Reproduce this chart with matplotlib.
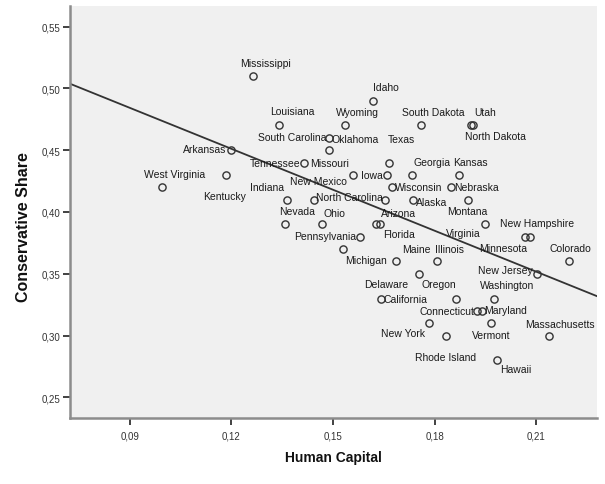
import numpy as np
import matplotlib
matplotlib.use("Agg")
import matplotlib.pyplot as plt
from matplotlib.ticker import FuncFormatter

plt.rcParams['font.family'] = ['Liberation Sans', 'DejaVu Sans']

# ---- data ----
states = ["Mississippi", "Idaho", "Louisiana", "Wyoming", "South Dakota", "Utah",
          "North Dakota", "South Carolina", "Arkansas", "Oklahoma", "Tennessee",
          "Texas", "Kentucky", "Missouri", "Iowa", "Georgia", "Kansas",
          "West Virginia", "Wisconsin", "Nebraska", "Indiana", "New Mexico",
          "North Carolina", "Alaska", "Montana", "Nevada", "Ohio", "Arizona",
          "Florida", "Virginia", "Pennsylvania", "Minnesota", "New Hampshire",
          "Michigan", "Maine", "Illinois", "Colorado", "Delaware", "New Jersey",
          "California", "Oregon", "Washington", "Connecticut", "Maryland",
          "New York", "Vermont", "Rhode Island", "Massachusetts", "Hawaii"]
human_capital = [0.1264, 0.1619, 0.1341, 0.1535, 0.1759, 0.1907,
                 0.1915, 0.1489, 0.1198, 0.1489, 0.1415,
                 0.1665, 0.1183, 0.1558, 0.1661, 0.1734, 0.1871,
                 0.0995, 0.1674, 0.1848, 0.1364, 0.1444,
                 0.1653, 0.1737, 0.1898, 0.1358, 0.1468, 0.1626,
                 0.1639, 0.1950, 0.1580, 0.2068, 0.2081,
                 0.1530, 0.1686, 0.1808, 0.2198, 0.1755, 0.2103,
                 0.1643, 0.1863, 0.1977, 0.1925, 0.1940,
                 0.1785, 0.1966, 0.1833, 0.2138, 0.1984]
conservative_share = [0.51, 0.49, 0.47, 0.47, 0.47, 0.47,
                      0.47, 0.46, 0.45, 0.45, 0.44,
                      0.44, 0.43, 0.43, 0.43, 0.43, 0.43,
                      0.42, 0.42, 0.42, 0.41, 0.41,
                      0.41, 0.41, 0.41, 0.39, 0.39, 0.39,
                      0.39, 0.39, 0.38, 0.38, 0.38,
                      0.37, 0.36, 0.36, 0.36, 0.35, 0.35,
                      0.33, 0.33, 0.33, 0.32, 0.32,
                      0.31, 0.31, 0.30, 0.30, 0.28]
x_ticks = [0.09, 0.12, 0.15, 0.18, 0.21]
y_ticks = [0.25, 0.30, 0.35, 0.40, 0.45, 0.50, 0.55]

# label placement (pixel offsets of label centre from its point; screen y down)
label_offsets = {
    "Mississippi": (12.4, -13.4), "Idaho": (12.7, -14), "Louisiana": (13, -14.4),
    "Wyoming": (12.5, -13.5), "South Dakota": (12.6, -13.7), "Utah": (14.3, -13.7),
    "North Dakota": (22.4, 10.7), "South Carolina": (-37, -1.3),
    "Oklahoma": (26.2, -11.3), "Texas": (13, -24), "Arkansas": (-26.4, -1),
    "Tennessee": (-28.6, 0), "Kentucky": (-1.4, 20.7), "Missouri": (-22.7, -12.4),
    "Iowa": (-15.5, 0), "Georgia": (20.3, -13.4), "Kansas": (12, -13.4),
    "West Virginia": (12.7, -13.7), "Wisconsin": (27.1, 0), "Nebraska": (25.5, 0),
    "Indiana": (-20.3, -13), "New Mexico": (4.7, -18.4),
    "North Carolina": (-35.4, -2.4), "Alaska": (18.5, 2.6), "Montana": (-0.5, 11.3),
    "Nevada": (12.3, -13.3), "Ohio": (12.3, -11), "Arizona": (22.6, -11.2),
    "Florida": (18.7, 10), "Virginia": (-22, 9), "Pennsylvania": (-35.3, -1),
    "Minnesota": (-21.7, 11), "New Hampshire": (7.8, -13.7), "Michigan": (22.7, 11.2),
    "Maine": (20, -12.5), "Illinois": (12, -12.5), "Colorado": (1, -13.3),
    "Delaware": (-33.2, 10), "New Jersey": (-32, -3.8), "California": (24.2, 0.7),
    "Oregon": (-16.7, -15), "Washington": (12.2, -14), "Connecticut": (-30.4, 0),
    "Maryland": (24, -1.3), "New York": (-26.6, 10), "Vermont": (0, 11.4),
    "Rhode Island": (-0.5, 21.3), "Massachusetts": (11, -11.7), "Hawaii": (19, 9),
}

W, H = 605, 485
fig = plt.figure(figsize=(W / 100, H / 100), dpi=100, facecolor='white')
ax = fig.add_axes([70 / W, 1 - 419 / H, (597 - 70) / W, (419 - 7) / H])
ax.set_facecolor('#f0f0f0')

x = np.array(human_capital)
y = np.array(conservative_share)

xlim = (0.0723, 0.2280)
ylim = (0.2333, 0.5667)
ax.set_xlim(*xlim)
ax.set_ylim(*ylim)

# fit line
b, a = np.polyfit(x, y, 1)
xx = np.array(xlim)
ax.plot(xx, a + b * xx, color='#333333', lw=1.3, zorder=2)

ax.plot(x, y, linestyle='none', marker='o', markersize=5.2,
        markerfacecolor='none', markeredgecolor='#333333', markeredgewidth=1.0,
        zorder=3)

for name, xi, yi in zip(states, x, y):
    dx, dy = label_offsets[name]
    ax.annotate(name, (xi, yi), xytext=(dx, -dy), textcoords='offset pixels',
                ha='center', va='center', fontsize=7.5, color='#1a1a1a', zorder=4)

for s in ['top', 'right']:
    ax.spines[s].set_visible(False)
for s in ['left', 'bottom']:
    ax.spines[s].set_color('#8c8c8c')
    ax.spines[s].set_linewidth(1.8)

ax.set_xticks(x_ticks)
ax.set_yticks(y_ticks)
fmt = FuncFormatter(lambda v, p: f"{v:.2f}".replace('.', ','))
ax.xaxis.set_major_formatter(fmt)
ax.yaxis.set_major_formatter(fmt)
ax.tick_params(axis='both', direction='out', length=5, width=1.3,
               color='#333333', labelsize=7, labelcolor='#333333', pad=2)
ax.tick_params(axis='x', pad=4)

fig.text(333 / W, 1 - 458 / H, "Human Capital", ha='center', va='center',
         fontsize=10, fontweight='bold', color='#111111')
fig.text(24 / W, 1 - 227.5 / H, "Conservative Share", ha='center', va='center',
         rotation=90, fontsize=11.5, fontweight='bold', color='#111111')

fig.savefig('out.png', dpi=100, facecolor='white')
